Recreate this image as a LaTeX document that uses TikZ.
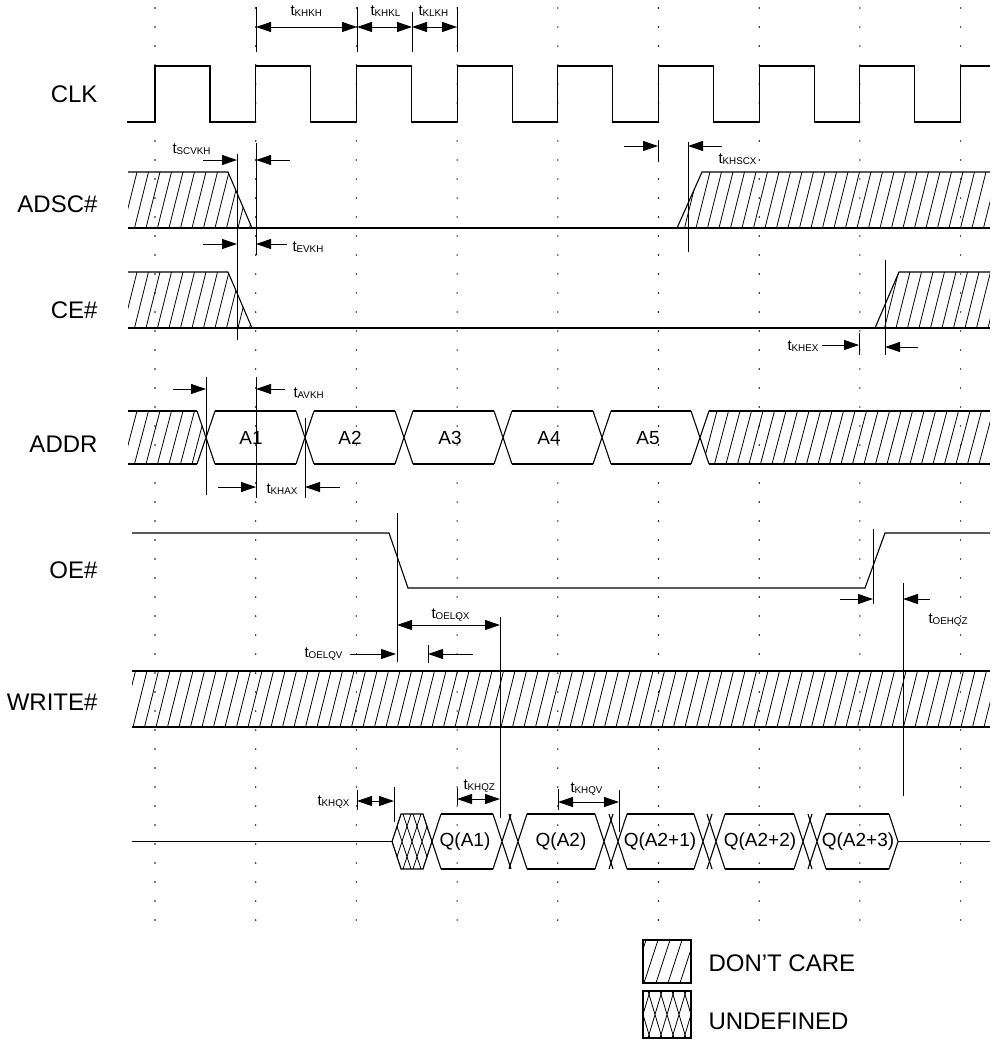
\documentclass[tikz,border=0pt]{standalone}
\usepackage{fontspec}
\setmainfont{Liberation Sans}
\usetikzlibrary{arrows.meta}
\newcommand\tm[1]{{\fontsize{15}{18}\selectfont t}{\fontsize{9.8}{11}\selectfont\raisebox{-1pt}{#1}}}
\begin{document}
\begin{tikzpicture}[x=1pt,y=-1pt,line width=1pt,
  sig/.style={line width=1.1pt},
  hat/.style={line width=0.8pt},
  arr/.style={-{Triangle[length=15pt,width=10pt]},line width=1pt},
  darr/.style={{Triangle[length=15pt,width=10pt]}-{Triangle[length=15pt,width=10pt]},line width=1pt},
  lab/.style={font=\fontsize{24}{28}\selectfont,anchor=base east,inner sep=0pt},
  tlab/.style={anchor=base west,inner sep=0pt},
  val/.style={font=\fontsize{19}{22}\selectfont,inner sep=0pt},
  leg/.style={font=\fontsize{24}{28}\selectfont,anchor=base west,inner sep=0pt}]
\useasboundingbox (0,0) rectangle (992,1044);
% grid dots
\foreach \k in {0,...,8}
  \foreach \yy in {8,27,...,925}
    \fill ({155+100.7*\k},\yy) circle (0.8);
% signal names
\node[lab] (nclk) at (98,102) {CLK};
\node[lab] (nadsc) at (98,212) {ADSC\#};
\node[lab] (nce) at (98,318) {CE\#};
\node[lab] (naddr) at (98,452) {ADDR};
\node[lab] (noe) at (98,578) {OE\#};
\node[lab] (nwr) at (98,710) {WRITE\#};
% CLK
\draw[sig] (127,122) \foreach \k in {0,...,7}{ -- ({155+100.7*\k},122) -- ({155+100.7*\k},66) -- ({210+100.7*\k},66) -- ({210+100.7*\k},122)} -- (960.6,122) -- (960.6,66) -- (990,66);
% ADSC#
\begin{scope}\clip (128,172)--(228,172)--(252,228)--(128,228)--cycle;
  \foreach \xx in {100,111.5,...,300} \draw[hat] (\xx,228) -- ++(14,-56);
\end{scope}
\begin{scope}\clip (677,228)--(702,172)--(990,172)--(990,228)--cycle;
  \foreach \xx in {650,661.5,...,1000} \draw[hat] (\xx,228) -- ++(14,-56);
\end{scope}
\draw[sig] (128,228) -- (990,228);
\draw[sig] (128,172) -- (228,172) -- (252,228);
\draw[sig] (677,228) -- (702,172) -- (990,172);
% CE#
\begin{scope}\clip (128,272)--(228,272)--(252,328)--(128,328)--cycle;
  \foreach \xx in {100,111.5,...,300} \draw[hat] (\xx,328) -- ++(14,-56);
\end{scope}
\begin{scope}\clip (875,328)--(899,272)--(990,272)--(990,328)--cycle;
  \foreach \xx in {850,861.5,...,1000} \draw[hat] (\xx,328) -- ++(14,-56);
\end{scope}
\draw[sig] (128,328) -- (990,328);
\draw[sig] (128,272) -- (228,272) -- (252,328);
\draw[sig] (875,328) -- (899,272) -- (990,272);
% ADDR
\begin{scope}\clip (128,411)--(197,411)--(206,437.5)--(197,464)--(128,464)--cycle;
  \foreach \xx in {100,111.5,...,220} \draw[hat] (\xx,464) -- ++(14,-53);
\end{scope}
\begin{scope}\clip (700,437.5)--(709,411)--(990,411)--(990,464)--(709,464)--cycle;
  \foreach \xx in {680,691.5,...,1000} \draw[hat] (\xx,464) -- ++(14,-53);
\end{scope}
\draw[sig] (128,411) -- (197,411) (128,464) -- (197,464);
\foreach \c in {206,305,404,503,602,700}
  \draw[sig] (\c-9,411) -- (\c+9,464) (\c-9,464) -- (\c+9,411);
\foreach \a/\b in {206/305,305/404,404/503,503/602,602/700}
  \draw[sig] (\a+9,411) -- (\b-9,411) (\a+9,464) -- (\b-9,464);
\draw[sig] (709,411) -- (990,411) (709,464) -- (990,464);
\node[val] (a1) at (251,438) {A1};
\node[val] (a2) at (350,438) {A2};
\node[val] (a3) at (450,438) {A3};
\node[val] (a4) at (549,438) {A4};
\node[val] (a5) at (648,438) {A5};
% OE#
\draw[sig] (132,533) -- (389,533) -- (408,588) -- (865,588) -- (885,533) -- (990,533);
% WRITE#
\begin{scope}\clip (132,671) rectangle (990,727);
  \foreach \xx in {110,121.5,...,1000} \draw[hat] (\xx,727) -- ++(14,-56);
\end{scope}
\draw[sig] (132,671) -- (990,671) (132,727) -- (990,727);
% DQ
\draw[sig] (132,841.5) -- (392,841.5);
\begin{scope}\clip (392,841.5)--(401,814)--(423,814)--(432,841.5)--(423,869)--(401,869)--cycle;
  \foreach \c in {382,392,...,442} \draw[hat] (\c-9,814) -- (\c+9,869) (\c-9,869) -- (\c+9,814);
\end{scope}
\draw[sig] (392,841.5)--(401,814)--(423,814)--(432,841.5)--(423,869)--(401,869)--cycle;
\draw[sig] (441,814) -- (432,841.5) -- (441,869);
\foreach \a/\b in {441/493,527/595,627/694,725/794,826/889}
  \draw[sig] (\a,814) -- (\b,814) (\a,869) -- (\b,869);
\foreach \c in {502,518,604,618,703,716,803,817}
  \draw[sig] (\c-9,814) -- (\c+9,869) (\c-9,869) -- (\c+9,814);
\draw[sig] (889,814) -- (898,841.5) -- (889,869);
\draw[sig] (898,841.5) -- (990,841.5);
\node[val] (q1) at (465,842) {Q(A1)};
\node[val] (q2) at (561,842) {Q(A2)};
\node[val] (q3) at (660,842) {Q(A2+1)};
\node[val] (q4) at (760,842) {Q(A2+2)};
\node[val] (q5) at (858,842) {Q(A2+3)};
% reference lines
\draw (256,7) -- (256,52) (357,7) -- (357,52) (412,12) -- (412,52) (457,7) -- (457,52);
\draw (237,154) -- (237,340) (256,143) -- (256,255);
\draw (658,142) -- (658,162) (688,142) -- (688,252);
\draw (859,333) -- (859,355) (885,260) -- (885,355);
\draw (206,377) -- (206,495) (256,377) -- (256,498) (305,418) -- (305,498);
\draw (397,513) -- (397,662) (500,617) -- (500,818) (428,645) -- (428,663);
\draw (873,529) -- (873,604) (903,583) -- (903,796);
\draw (357,790) -- (357,810) (394,787) -- (394,822) (457,788) -- (457,805);
\draw (558,789) -- (558,810) (619,790) -- (619,832);
% arrows
\draw[darr] (256,27) -- (357,27);
\draw[darr] (357,27) -- (412,27);
\draw[darr] (412,27) -- (457,27);
\draw[arr] (203,160) -- (237,160);
\draw[arr] (290,160) -- (256,160);
\draw[arr] (203,244) -- (237,244);
\draw[arr] (287,244) -- (256,244);
\draw[arr] (624,146) -- (658,146);
\draw[arr] (722,146) -- (688,146);
\draw[arr] (822,345) -- (859,345);
\draw[arr] (918,347) -- (885,347);
\draw[arr] (173,389) -- (206,389);
\draw[arr] (285,389) -- (256,389);
\draw[arr] (218,487) -- (256,487);
\draw[arr] (340,487) -- (305,487);
\draw[darr] (397,625) -- (500,625);
\draw[arr] (350,654) -- (396,654);
\draw[arr] (473,654) -- (428,654);
\draw[arr] (840,599) -- (873,599);
\draw[arr] (930,599) -- (903,599);
\draw[darr] (357,801) -- (394,801);
\draw[darr] (457,799) -- (500,799);
\draw[darr] (558,802) -- (619,802);
% timing labels
\node[tlab] (tkhkh) at (290,16) {\tm{KHKH}};
\node[tlab] (tkhkl) at (370,16) {\tm{KHKL}};
\node[tlab] (tklkh) at (418,16) {\tm{KLKH}};
\node[tlab] (tscvkh) at (172,153) {\tm{SCVKH}};
\node[tlab] (tevkh) at (292,251) {\tm{EVKH}};
\node[tlab] (tkhscx) at (718,163) {\tm{KHSCX}};
\node[tlab] (tkhex) at (787,350) {\tm{KHEX}};
\node[tlab] (tavkh) at (293,397) {\tm{AVKH}};
\node[tlab] (tkhax) at (266,493) {\tm{KHAX}};
\node[tlab] (toelqx) at (431,618) {\tm{OELQX}};
\node[tlab] (toelqv) at (304,657) {\tm{OELQV}};
\node[tlab] (toehqz) at (928,623) {\tm{OEHQZ}};
\node[tlab] (tkhqx) at (317,805) {\tm{KHQX}};
\node[tlab] (tkhqz) at (463,789) {\tm{KHQZ}};
\node[tlab] (tkhqv) at (570,792) {\tm{KHQV}};
% legend
\begin{scope}\clip (643,940) rectangle (691,983);
  \foreach \xx in {620,632,...,700} \draw[hat] (\xx,983) -- ++(14,-43);
\end{scope}
\draw[sig] (643,940) rectangle (691,983);
\begin{scope}\clip (643,991) rectangle (691,1038);
  \foreach \c in {631,643,...,703} \draw[hat] (\c-7,991) -- (\c+7,1038) (\c-7,1038) -- (\c+7,991);
\end{scope}
\draw[sig] (643,991) rectangle (691,1038);
\node[leg] (ldc) at (708,971) {DON’T CARE};
\node[leg] (lun) at (708,1029) {UNDEFINED};
\end{tikzpicture}
\end{document}
